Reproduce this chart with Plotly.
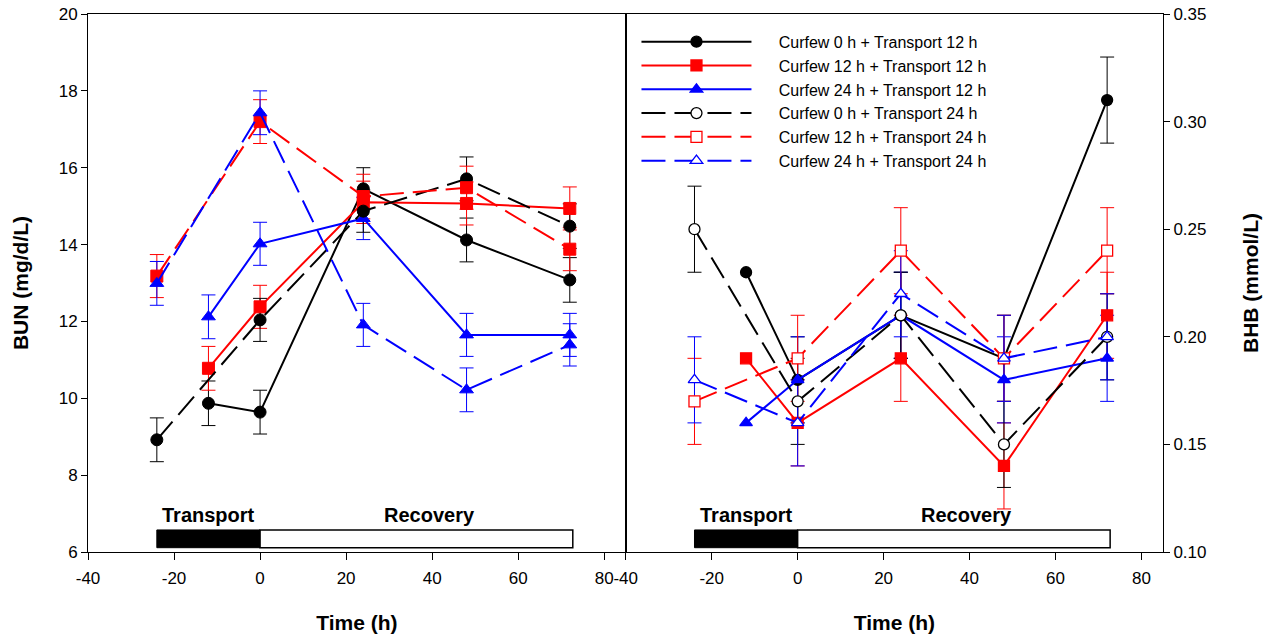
import plotly.graph_objects as go

# ---- sampling times (h relative to end of transport) ----
time_t12 = [-12, 0, 24, 48, 72]
time_t24 = [-24, 0, 24, 48, 72]

# ---- BUN (mg/d/L), mean and SEM ----
bun_c0_t12 = [9.87, 9.64, 15.45, 14.12, 13.08]
bun_c0_t12_sem = [0.58, 0.57, 0.55, 0.57, 0.58]
bun_c12_t12 = [10.78, 12.38, 15.10, 15.07, 14.94]
bun_c12_t12_sem = [0.57, 0.56, 0.55, 0.56, 0.56]
bun_c24_t12 = [12.12, 14.02, 14.68, 11.65, 11.65]
bun_c24_t12_sem = [0.57, 0.56, 0.55, 0.56, 0.56]
bun_c0_t24 = [8.92, 12.04, 14.87, 15.71, 14.48]
bun_c0_t24_sem = [0.57, 0.56, 0.55, 0.57, 0.58]
bun_c12_t24 = [13.18, 17.20, 15.25, 15.48, 13.88]
bun_c12_t24_sem = [0.56, 0.57, 0.58, 0.56, 0.56]
bun_c24_t24 = [12.99, 17.43, 11.91, 10.22, 11.39]
bun_c24_t24_sem = [0.57, 0.57, 0.56, 0.57, 0.55]

# ---- BHB (mmol/L), mean and SEM (None = no SEM reported) ----
bhb_c0_t12 = [0.23, 0.18, 0.21, 0.19, 0.31]
bhb_c0_t12_sem = [None, 0.02, 0.02, 0.02, 0.02]
bhb_c12_t12 = [0.19, 0.16, 0.19, 0.14, 0.21]
bhb_c12_t12_sem = [None, 0.02, 0.02, 0.02, 0.02]
bhb_c24_t12 = [0.16, 0.18, 0.21, 0.18, 0.19]
bhb_c24_t12_sem = [None, 0.02, 0.02, 0.02, 0.02]
bhb_c0_t24 = [0.25, 0.17, 0.21, 0.15, 0.20]
bhb_c0_t24_sem = [0.02, 0.02, 0.02, 0.02, 0.02]
bhb_c12_t24 = [0.17, 0.19, 0.24, 0.19, 0.24]
bhb_c12_t24_sem = [0.02, 0.02, 0.02, 0.02, 0.02]
bhb_c24_t24 = [0.18, 0.16, 0.22, 0.19, 0.20]
bhb_c24_t24_sem = [0.02, 0.02, 0.02, 0.02, 0.02]

x_ticks = [-40, -20, 0, 20, 40, 60, 80]
x_tick_text = ["-40", "-20", "0", "20", "40", "60", "80"]
phase_labels = ["Transport", "Recovery"]

FONT = "Liberation Sans, Arial, sans-serif"
DASH = "24px,9px"
LEGEND_PAD = "\u00a0" * 5  # gap between legend symbol and its label

series = [
    # name, times, bun, bun_sem, bhb, bhb_sem, colour, symbol, dashed
    ("Curfew 0 h + Transport 12 h", time_t12, bun_c0_t12, bun_c0_t12_sem, bhb_c0_t12, bhb_c0_t12_sem, "#000000", "circle", False),
    ("Curfew 12 h + Transport 12 h", time_t12, bun_c12_t12, bun_c12_t12_sem, bhb_c12_t12, bhb_c12_t12_sem, "#ff0000", "square", False),
    ("Curfew 24 h + Transport 12 h", time_t12, bun_c24_t12, bun_c24_t12_sem, bhb_c24_t12, bhb_c24_t12_sem, "#0000ff", "triangle-up", False),
    ("Curfew 0 h + Transport 24 h", time_t24, bun_c0_t24, bun_c0_t24_sem, bhb_c0_t24, bhb_c0_t24_sem, "#000000", "circle", True),
    ("Curfew 12 h + Transport 24 h", time_t24, bun_c12_t24, bun_c12_t24_sem, bhb_c12_t24, bhb_c12_t24_sem, "#ff0000", "square", True),
    ("Curfew 24 h + Transport 24 h", time_t24, bun_c24_t24, bun_c24_t24_sem, bhb_c24_t24, bhb_c24_t24_sem, "#0000ff", "triangle-up", True),
]

fig = go.Figure()


def add_errors(xs, ys, sems, colour, xa, ya):
    pts = [(x, y, s) for x, y, s in zip(xs, ys, sems) if s is not None]
    fig.add_trace(go.Scatter(
        x=[p[0] for p in pts], y=[p[1] for p in pts],
        mode="markers", marker=dict(size=1, opacity=0),
        error_y=dict(type="data", array=[p[2] for p in pts], color=colour,
                     thickness=1, width=7),
        xaxis=xa, yaxis=ya, showlegend=False, hoverinfo="skip"))


# error bars first so the lines and markers sit on top
for name, t, bun, bun_sem, bhb, bhb_sem, col, sym, dashed in series:
    add_errors(t, bun, bun_sem, col, "x", "y")
    add_errors(t, bhb, bhb_sem, col, "x2", "y2")

for name, t, bun, bun_sem, bhb, bhb_sem, col, sym, dashed in series:
    line = dict(color=col, width=2, dash=DASH if dashed else "solid")
    # BUN panel: all markers filled
    fig.add_trace(go.Scatter(
        x=t, y=bun, mode="lines+markers", name=name, line=line,
        marker=dict(symbol=sym, size=12, color=col, line=dict(color=col, width=1)),
        xaxis="x", yaxis="y", showlegend=False))
    # BHB panel: 24 h transport groups drawn with open markers
    fig.add_trace(go.Scatter(
        x=t, y=bhb, mode="lines+markers", name=LEGEND_PAD + name, line=line,
        marker=dict(symbol=sym, size=11,
                    color="white" if dashed else col,
                    line=dict(color=col, width=1.3)),
        xaxis="x2", yaxis="y2", showlegend=True))

axis_common = dict(
    showline=True, linecolor="black", linewidth=1, mirror=True,
    ticks="outside", tickcolor="black", tickwidth=1,
    showgrid=False, zeroline=False, automargin=False,
    tickfont=dict(family=FONT, size=17, color="black"),
)
title_font = dict(family=FONT, size=21, color="black", weight="bold")

fig.update_layout(
    width=1268, height=640,
    margin=dict(l=88, r=105, t=14, b=88),
    paper_bgcolor="white", plot_bgcolor="white",
    font=dict(family=FONT, size=17, color="black"),
    xaxis=dict(domain=[0, 0.5002], range=[-40, 85], tickvals=x_ticks, ticktext=x_tick_text,
               ticklen=7, ticklabelstandoff=4,
               anchor="y", title=dict(text="Time (h)", font=title_font, standoff=27),
               **axis_common),
    yaxis=dict(domain=[0, 1], range=[6, 20], dtick=2, tick0=6, ticklen=6,
               anchor="x", title=dict(text="BUN (mg/d/L)", font=title_font, standoff=24),
               **axis_common),
    xaxis2=dict(domain=[0.5002, 1], range=[-40, 85], tickvals=x_ticks, ticktext=x_tick_text,
                ticklen=7, ticklabelstandoff=4,
                anchor="y2", title=dict(text="Time (h)", font=title_font, standoff=27),
                **axis_common),
    yaxis2=dict(domain=[0, 1], range=[0.10, 0.35], dtick=0.05, tick0=0.10,
                tickformat=".2f", ticklen=6, side="right",
                anchor="x2", title=dict(text="BHB (mmol/L)", font=title_font, standoff=37),
                **axis_common),
    legend=dict(x=0.5102, y=0.98, xanchor="left", yanchor="top",
                bgcolor="rgba(0,0,0,0)", borderwidth=0,
                itemwidth=110, tracegroupgap=0,
                font=dict(family=FONT, size=16, color="black")),
    showlegend=True,
)

# Transport / Recovery timeline bars in each panel
for xr, yr in (("x", "y domain"), ("x2", "y2 domain")):
    fig.add_shape(type="rect", xref=xr, yref=yr, x0=-24, x1=0, y0=0.008, y1=0.041,
                  fillcolor="black", line=dict(color="black", width=1))
    fig.add_shape(type="rect", xref=xr, yref=yr, x0=0, x1=72.7, y0=0.008, y1=0.041,
                  fillcolor="white", line=dict(color="black", width=1.5))
    fig.add_annotation(xref=xr, yref=yr, x=-12, y=0.044, text=phase_labels[0],
                       showarrow=False, font=dict(family=FONT, size=20, color="black", weight="bold"))
    fig.add_annotation(xref=xr, yref=yr, x=39.3, y=0.044, text=phase_labels[1],
                       showarrow=False, font=dict(family=FONT, size=20, color="black", weight="bold"))

fig.write_html("out.html")
